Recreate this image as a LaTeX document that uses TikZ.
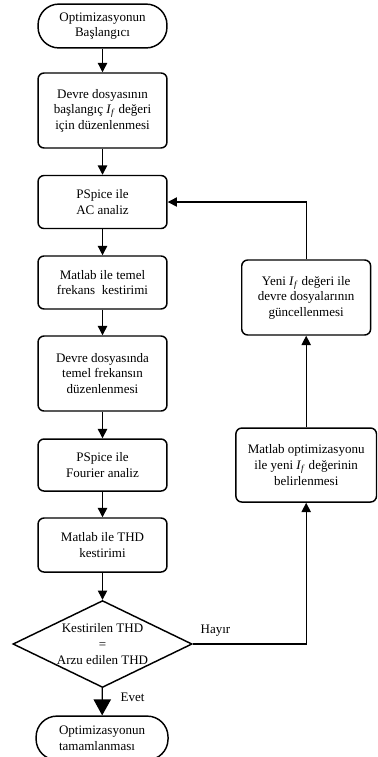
\documentclass[tikz,border=0pt]{standalone}
\usepackage{fontspec}
\setmainfont{Liberation Serif}
\usepackage{tikz}
\usetikzlibrary{shapes.geometric,arrows.meta}

\newcommand{\Ifval}{\textit{I}\textsubscript{\textit{f}}}

\begin{document}
\begin{tikzpicture}[
        box/.style={draw, line width=1.1pt, rounded corners=4.5pt, align=center, minimum width=3.41cm, inner sep=2pt, font=\fontsize{9.8}{11.7}\selectfont},
        term/.style={box, rounded corners=0.55cm, minimum height=1.16cm},
        cond/.style={diamond, draw, line width=1.1pt, aspect=2, inner sep=0pt, minimum width=4.74cm, minimum height=2.3cm, align=center, font=\fontsize{9.8}{11.7}\selectfont},
        flow/.style={line width=0.95pt, -{Triangle[length=7pt,width=7pt]}},
        bigflow/.style={line width=0.95pt, -{Triangle[length=12pt,width=13pt]}},
        lbl/.style={font=\fontsize{9.8}{11.7}\selectfont}
    ]
        \useasboundingbox (0,0) rectangle (10,-20.026);
        \node[term] (start) at (2.712,-0.688) {Optimizasyonun\\Başlangıcı};
        \node[box, minimum height=1.984cm] (devre) at (2.712,-2.923) {Devre dosyasının\\başlangıç \Ifval{} değeri\\için düzenlenmesi};
        \node[box, minimum height=1.402cm] (acanaliz) at (2.712,-5.344) {PSpice ile\\AC analiz};
        \node[box, minimum height=1.402cm] (temel) at (2.712,-7.473) {Matlab ile temel\\frekans~ kestirimi};
        \node[box, minimum height=1.984cm] (frekans) at (2.712,-9.881) {Devre dosyasında\\temel frekansın\\düzenlenmesi};
        \node[box, minimum height=1.376cm] (fourier) at (2.712,-12.302) {PSpice ile\\Fourier analiz};
        \node[box, minimum height=1.429cm] (thd) at (2.712,-14.418) {Matlab ile THD\\kestirimi};
        \node[cond] (karar) at (2.712,-17.037) {Kestirilen THD\\=\\Arzu edilen THD};
        \node[term, align=left, minimum width=3.49cm] (son) at (2.70,-19.524) {Optimizasyonun\\tamamlanması};
        \node[box, minimum width=3.72cm, minimum height=1.958cm] (optim) at (8.1,-12.302) {Matlab optimizasyonu\\ile yeni \Ifval{} değerinin\\belirlenmesi};
        \node[box, minimum height=1.984cm] (yeni) at (8.1,-7.870) {Yeni \Ifval{} değeri ile\\devre dosyalarının\\güncellenmesi};

        \draw[flow] (start) -- (devre);
        \draw[flow] (devre) -- (acanaliz);
        \draw[flow] (acanaliz) -- (temel);
        \draw[flow] (temel) -- (frekans);
        \draw[flow] (frekans) -- (fourier);
        \draw[flow] (fourier) -- (thd);
        \draw[flow] (thd) -- (karar);
        \draw[bigflow] (karar) -- node[lbl, pos=0.35, right=10pt] {Evet} (son);
        \draw[flow] (karar.east) -| node[lbl, pos=0.1, above, yshift=2pt] {Hayır} (optim.south);
        \draw[flow] (optim) -- (yeni);
        \draw[flow] (yeni.north) |- (acanaliz.east);
    \end{tikzpicture}
\end{document}
